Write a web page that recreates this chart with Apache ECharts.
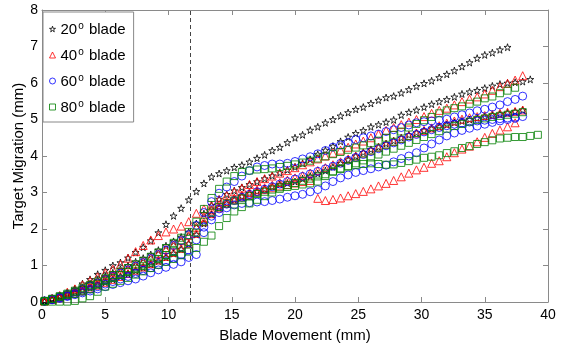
<!DOCTYPE html>
<html>
<head>
<meta charset="UTF-8">
<title>Target migration</title>
<script src="https://cdn.jsdelivr.net/npm/echarts@6/dist/echarts.min.js"></script>
<style>
html, body { margin: 0; padding: 0; background: #fff; }
#main { width: 569px; height: 349px; }
</style>
</head>
<body>
<div id="main"></div>
<script type="text/javascript">
// blade movement positions (mm), shared by every run
var bladeMove = [0.2,0.8,1.4,2.0,2.6,3.2,3.8,4.4,5.0,5.6,6.2,6.8,7.4,8.0,8.6,9.2,9.8,10.4,11.0,11.6,
  12.2,12.8,13.4,14.0,14.6,15.2,15.8,16.4,17.0,17.6,18.2,18.8,19.4,20.0,20.6,21.2,21.8,22.4,23.0,23.6,
  24.2,24.8,25.4,26.0,26.6,27.2,27.8,28.4,29.0,29.6,30.2,30.8,31.4,32.0,32.6,33.2,33.8,34.4,35.0,35.6,
  36.2,36.8,37.4,38.0,38.6,39.2];

// 20 deg blade, three runs
var blade20a = [0.03,0.1,0.17,0.25,0.36,0.5,0.62,0.76,0.87,1.0,1.08,1.21,1.36,1.5,1.68,1.9,2.13,2.36,2.57,2.8,
  3.03,3.25,3.43,3.52,3.6,3.69,3.75,3.84,3.94,4.03,4.15,4.24,4.37,4.5,4.58,4.71,4.8,4.91,5.0,5.1,
  5.19,5.28,5.34,5.44,5.53,5.6,5.64,5.73,5.82,5.91,5.99,6.06,6.15,6.24,6.34,6.45,6.56,6.68,6.77,6.83,
  6.91,6.98];
var blade20b = [0.03,0.08,0.15,0.22,0.3,0.4,0.5,0.6,0.7,0.8,0.9,1.0,1.1,1.2,1.3,1.42,1.54,1.66,1.78,1.92,
  2.15,2.42,2.65,2.82,2.95,3.05,3.14,3.22,3.3,3.38,3.46,3.54,3.62,3.7,3.8,3.91,4.05,4.16,4.27,4.4,
  4.52,4.62,4.7,4.8,4.86,4.93,4.99,5.12,5.2,5.26,5.34,5.42,5.49,5.55,5.62,5.7,5.76,5.8,5.86,5.92,
  5.97,6.0,6.02,6.04,6.1];
var blade20c = [0.03,0.08,0.13,0.19,0.25,0.32,0.39,0.46,0.54,0.62,0.7,0.78,0.86,0.94,1.03,1.12,1.22,1.33,1.45,1.6,
  1.85,2.15,2.4,2.58,2.7,2.8,2.9,2.98,3.04,3.1,3.16,3.22,3.26,3.3,3.38,3.45,3.52,3.6,3.7,3.8,
  3.9,4.0,4.1,4.18,4.25,4.34,4.42,4.5,4.58,4.64,4.7,4.75,4.8,4.86,4.92,4.96,5.0,5.04,5.08,5.12,
  5.15,5.18,5.22,5.26];

// 40 deg blade
var blade40a = [0.04,0.1,0.18,0.27,0.36,0.47,0.58,0.69,0.8,0.9,1.03,1.2,1.38,1.55,1.7,1.82,1.92,2.0,2.08,2.2,
  2.43,2.55,2.65,2.8,2.92,3.02,3.12,3.22,3.3,3.38,3.45,3.53,3.6,3.68,3.76,3.84,3.92,4.0,4.08,4.16,
  4.24,4.33,4.41,4.5,4.6,4.7,4.78,4.86,4.93,5.0,5.08,5.17,5.25,5.31,5.4,5.49,5.56,5.62,5.7,5.8,
  5.9,5.99,6.08,6.2];
var blade40b = [0.03,0.09,0.15,0.22,0.29,0.37,0.45,0.54,0.63,0.72,0.81,0.91,1.01,1.11,1.21,1.32,1.44,1.56,1.68,1.82,
  2.05,2.32,2.52,2.66,2.76,2.85,2.93,3.0,3.07,3.13,3.2,3.27,3.34,3.4,3.46,3.53,3.6,3.68,3.76,3.84,
  3.92,4.0,4.08,4.16,4.24,4.32,4.4,4.48,4.56,4.63,4.7,4.77,4.83,4.9,4.96,5.01,5.05,5.08,5.11,5.14,
  5.17,5.2,5.22,5.26];
var blade40c = [0.03,0.07,0.12,0.18,0.24,0.31,0.38,0.46,0.54,0.62,0.7,0.78,0.87,0.96,1.05,1.15,1.25,1.36,1.47,1.6,
  1.88,2.2,2.42,2.58,2.7,2.8,2.88,2.95,3.02,3.08,3.13,3.18,3.22,3.26,3.3,3.33,2.84,2.78,2.81,2.85,
  2.91,2.97,3.03,3.1,3.18,3.25,3.33,3.43,3.53,3.62,3.69,3.8,3.87,3.98,4.09,4.19,4.27,4.39,4.51,4.62,
  4.71,4.8,4.91];

// 60 deg blade
var blade60a = [0.03,0.08,0.14,0.21,0.28,0.36,0.44,0.52,0.61,0.7,0.79,0.88,0.98,1.08,1.19,1.3,1.42,1.55,1.68,1.84,
  2.1,2.45,2.75,2.98,3.15,3.3,3.45,3.6,3.7,3.74,3.78,3.78,3.8,3.85,3.92,3.98,4.06,4.15,4.24,4.3,
  4.37,4.45,4.5,4.55,4.6,4.67,4.72,4.78,4.85,4.91,4.94,4.96,4.98,5.01,5.07,5.13,5.18,5.24,5.28,5.34,
  5.4,5.49,5.55,5.64];
var blade60b = [0.02,0.07,0.12,0.17,0.23,0.29,0.35,0.42,0.49,0.56,0.63,0.7,0.78,0.86,0.94,1.02,1.11,1.2,1.3,1.42,
  1.7,2.05,2.35,2.55,2.68,2.78,2.87,2.95,3.02,3.09,3.16,3.23,3.3,3.37,3.44,3.51,3.58,3.65,3.72,3.8,
  3.88,3.96,4.04,4.12,4.2,4.28,4.36,4.44,4.52,4.59,4.66,4.72,4.78,4.83,4.87,4.9,4.93,4.96,4.98,5.0,
  5.02,5.04,5.06,5.08];
var blade60c = [0.02,0.06,0.1,0.15,0.2,0.25,0.3,0.36,0.42,0.48,0.53,0.58,0.63,0.71,0.8,0.88,0.95,1.03,1.1,1.22,
  1.3,1.9,2.25,2.45,2.58,2.66,2.7,2.72,2.74,2.75,2.78,2.82,2.87,2.91,2.95,3.02,3.08,3.18,3.3,3.4,
  3.48,3.55,3.6,3.65,3.7,3.75,3.84,3.93,4.0,4.09,4.22,4.33,4.44,4.55,4.63,4.7,4.76,4.82,4.87,4.92,
  4.96,5.0,5.03];

// 80 deg blade
var blade80a = [0.03,0.09,0.16,0.23,0.31,0.39,0.47,0.56,0.65,0.74,0.83,0.93,1.03,1.13,1.24,1.36,1.48,1.62,1.76,1.92,
  2.2,2.55,2.85,3.1,3.3,3.45,3.56,3.6,3.63,3.64,3.66,3.7,3.73,3.77,3.82,3.87,3.93,3.99,4.05,4.11,
  4.17,4.23,4.29,4.35,4.42,4.5,4.58,4.67,4.78,4.88,4.98,5.07,5.17,5.25,5.31,5.36,5.43,5.49,5.58,5.63,
  5.72,5.79,5.87];
var blade80b = [0.03,0.08,0.14,0.2,0.27,0.34,0.42,0.5,0.58,0.66,0.74,0.82,0.9,0.99,1.08,1.18,1.28,1.39,1.5,1.64,
  1.9,2.2,2.45,2.6,2.7,2.78,2.84,2.9,2.96,3.02,3.08,3.14,3.2,3.26,3.32,3.38,3.44,3.5,3.57,3.64,
  3.72,3.8,3.88,3.96,4.04,4.12,4.2,4.28,4.36,4.44,4.52,4.6,4.68,4.75,4.82,4.88,4.94,4.99,5.03,5.07,
  5.1,5.13,5.16,5.2];
var blade80c = [0.01,0.01,0.01,0.01,0.03,0.1,0.16,0.28,0.42,0.5,0.58,0.66,0.75,0.84,0.93,1.02,1.1,1.18,1.28,1.38,
  1.48,1.65,1.82,2.08,2.3,2.48,2.6,2.7,2.8,2.9,3.0,3.1,3.15,3.18,3.22,3.25,3.3,3.45,3.58,3.66,
  3.71,3.75,3.78,3.8,3.78,3.76,3.77,3.81,3.86,3.9,3.95,3.98,4.02,4.08,4.13,4.22,4.27,4.33,4.38,4.43,
  4.48,4.5,4.52,4.52,4.55,4.58];

var bladeNames = ['20° blade', '40° blade', '60° blade', '80° blade'];
var xTicks = [0, 40, 5];
var yTicks = [0, 8, 1];
var stopLine = 11.7;

var starPath = 'path://M50,0L61,35L98,35L68,57L79,91L50,70L21,91L32,57L2,35L39,35Z';
var symbols = [starPath, 'triangle', 'circle', 'rect'];
var colors = ['#000000', '#ff0000', '#0000ff', '#008000'];
var sizes = [7, 8, 8, 7];

var myChart = echarts.init(document.getElementById('main'));

function pairs(ys) {
    var out = [];
    for (var i = 0; i < ys.length; i++) {
        out.push([bladeMove[i], ys[i]]);
    }
    return out;
}

function run(k, ys) {
    return {
        name: bladeNames[k],
        type: 'scatter',
        data: pairs(ys),
        symbol: symbols[k],
        symbolSize: sizes[k],
        itemStyle: { color: 'rgba(0,0,0,0)', borderColor: colors[k], borderWidth: 1 },
        emphasis: { disabled: true },
        animation: false
    };
}

var lineGray = { color: '#8a8a8a', width: 1 };

var series = [
    run(0, blade20a), run(0, blade20b), run(0, blade20c),
    run(1, blade40a), run(1, blade40b), run(1, blade40c),
    run(2, blade60a), run(2, blade60b), run(2, blade60c),
    run(3, blade80a), run(3, blade80b), run(3, blade80c)
];

// dashed marker line at end of first stage
series[0].markLine = {
    silent: true,
    symbol: 'none',
    label: { show: false },
    lineStyle: { color: '#444', width: 1, type: [4, 3] },
    data: [{ xAxis: stopLine }]
};

var legendData = [];
for (var k = 0; k < 4; k++) {
    legendData.push({
        name: bladeNames[k],
        icon: symbols[k],
        itemStyle: { color: 'rgba(0,0,0,0)', borderColor: colors[k], borderWidth: 1 }
    });
}

option = {
    backgroundColor: '#fff',
    animation: false,
    grid: { left: 42, right: 21, top: 10, bottom: 47, outerBoundsMode: 'none', containLabel: false },
    legend: {
        orient: 'vertical',
        left: 43,
        top: 12,
        data: legendData,
        backgroundColor: '#fff',
        borderColor: '#888',
        borderWidth: 1,
        borderRadius: 0,
        padding: [9, 8, 7, 6],
        itemGap: 10,
        itemWidth: 6,
        itemHeight: 6,
        formatter: function (name) {
            var p = name.split('°');
            return '{n|' + p[0] + '}{s|o}{n|' + p[1] + '}';
        },
        textStyle: {
            fontFamily: 'Liberation Sans',
            fontSize: 15,
            color: '#000',
            rich: {
                n: { fontFamily: 'Liberation Sans', fontSize: 15, lineHeight: 16, verticalAlign: 'bottom' },
                s: { fontFamily: 'Liberation Sans', fontSize: 10, lineHeight: 16, verticalAlign: 'top', padding: [0, 1, 0, 1] }
            }
        }
    },
    xAxis: [{
        type: 'value',
        min: xTicks[0], max: xTicks[1], interval: xTicks[2],
        name: 'Blade Movement (mm)',
        nameLocation: 'middle',
        nameGap: 26,
        nameMoveOverlap: false,
        nameTextStyle: { fontFamily: 'Liberation Sans', fontSize: 15, color: '#000' },
        axisLine: { onZero: false, lineStyle: lineGray },
        axisTick: { inside: true, length: 5, lineStyle: lineGray },
        axisLabel: { fontFamily: 'Liberation Sans', fontSize: 14, color: '#000', margin: 6 },
        splitLine: { show: false }
    }, {
        type: 'value', position: 'top',
        min: xTicks[0], max: xTicks[1], interval: xTicks[2],
        axisLine: { onZero: false, lineStyle: lineGray },
        axisTick: { inside: true, length: 5, lineStyle: lineGray },
        axisLabel: { show: false },
        splitLine: { show: false }
    }],
    yAxis: [{
        type: 'value',
        min: yTicks[0], max: yTicks[1], interval: yTicks[2],
        name: 'Target Migration (mm)',
        nameLocation: 'middle',
        nameGap: 16,
        nameMoveOverlap: false,
        nameTextStyle: { fontFamily: 'Liberation Sans', fontSize: 15, color: '#000' },
        axisLine: { show: true, onZero: false, lineStyle: lineGray },
        axisTick: { show: true, inside: true, length: 5, lineStyle: lineGray },
        axisLabel: { fontFamily: 'Liberation Sans', fontSize: 14, color: '#000', margin: 4 },
        splitLine: { show: false }
    }, {
        type: 'value', position: 'right',
        min: yTicks[0], max: yTicks[1], interval: yTicks[2],
        axisLine: { show: true, onZero: false, lineStyle: lineGray },
        axisTick: { show: true, inside: true, length: 5, lineStyle: lineGray },
        axisLabel: { show: false },
        splitLine: { show: false }
    }],
    series: series
};

myChart.setOption(option);
</script>
</body>
</html>
